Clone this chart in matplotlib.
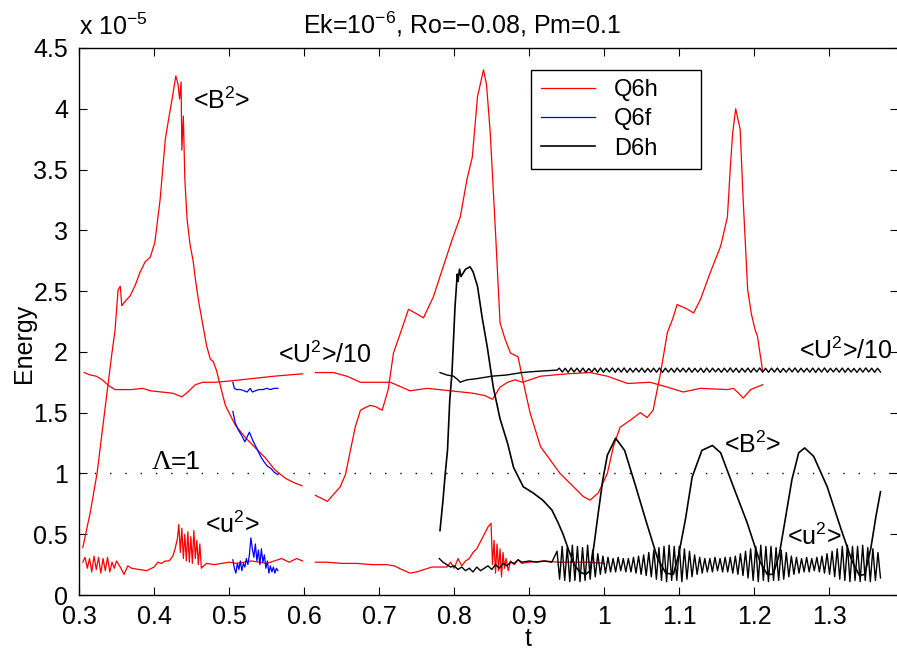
import numpy as np
import matplotlib
matplotlib.use("Agg")
import matplotlib.pyplot as plt

plt.rcParams['font.family'] = ['Liberation Sans', 'DejaVu Sans']
plt.rcParams['mathtext.fontset'] = 'custom'
plt.rcParams['mathtext.rm'] = 'Liberation Sans'
plt.rcParams['mathtext.it'] = 'Liberation Sans:italic'

# ---- Q6h (red), run split in two pieces ----
q6h_b2_t1 = [0.305, 0.315, 0.324, 0.335, 0.343, 0.348, 0.352, 0.355, 0.357, 0.362, 0.368, 0.375,
             0.381, 0.388, 0.395, 0.401, 0.408, 0.415, 0.419, 0.424, 0.429, 0.432, 0.434, 0.436,
             0.437, 0.439, 0.441, 0.444, 0.448, 0.452, 0.455, 0.459, 0.465, 0.470, 0.475, 0.479,
             0.483, 0.488, 0.495, 0.508, 0.521, 0.535, 0.548, 0.561, 0.575, 0.588, 0.597]
q6h_b2_e1 = [0.39, 0.68, 1.00, 1.55, 1.95, 2.18, 2.51, 2.54, 2.38, 2.42, 2.46, 2.55,
             2.65, 2.74, 2.78, 2.90, 3.25, 3.75, 3.90, 4.08, 4.27, 4.20, 4.08, 4.22,
             3.66, 3.94, 3.42, 3.09, 2.88, 2.75, 2.60, 2.43, 2.22, 2.05, 1.94, 1.92,
             1.85, 1.73, 1.56, 1.40, 1.30, 1.21, 1.13, 1.03, 0.96, 0.92, 0.90]
q6h_b2_t2 = [0.615, 0.631, 0.648, 0.655, 0.661, 0.668, 0.675, 0.681, 0.688, 0.695, 0.704, 0.712,
             0.719, 0.728, 0.739, 0.748, 0.759, 0.772, 0.781, 0.797, 0.808, 0.817, 0.824, 0.831,
             0.839, 0.843, 0.848, 0.855, 0.861, 0.868, 0.875, 0.885, 0.892, 0.901, 0.915, 0.928,
             0.941, 0.959, 0.972, 0.981, 0.992, 1.004, 1.012, 1.021, 1.035, 1.048, 1.057, 1.065,
             1.075, 1.084, 1.091, 1.097, 1.111, 1.119, 1.128, 1.141, 1.155, 1.164, 1.168, 1.171,
             1.175, 1.181, 1.185, 1.191, 1.196, 1.201, 1.204, 1.211]
q6h_b2_e2 = [0.82, 0.77, 0.89, 0.99, 1.17, 1.38, 1.52, 1.54, 1.56, 1.55, 1.52, 1.69,
             1.99, 2.15, 2.35, 2.32, 2.28, 2.45, 2.62, 2.92, 3.11, 3.42, 3.60, 4.10,
             4.32, 4.20, 3.80, 2.98, 2.24, 2.10, 1.99, 1.96, 1.75, 1.50, 1.22, 1.11,
             1.00, 0.89, 0.81, 0.78, 0.84, 1.00, 1.22, 1.38, 1.44, 1.50, 1.46, 1.52,
             1.83, 2.16, 2.27, 2.39, 2.35, 2.32, 2.43, 2.65, 2.87, 3.11, 3.53, 3.80,
             4.00, 3.83, 3.25, 2.51, 2.31, 2.18, 2.13, 1.84]

q6h_U2_t1 = [0.307, 0.315, 0.323, 0.331, 0.340, 0.348, 0.360, 0.370, 0.385, 0.395, 0.410,
             0.425, 0.437, 0.445, 0.455, 0.465, 0.480, 0.500, 0.530, 0.560, 0.598]
q6h_U2_e1 = [1.83, 1.81, 1.80, 1.77, 1.72, 1.69, 1.69, 1.69, 1.70, 1.68, 1.67,
             1.66, 1.63, 1.67, 1.73, 1.75, 1.75, 1.76, 1.78, 1.80, 1.82]
q6h_U2_t2 = [0.615, 0.639, 0.657, 0.675, 0.697, 0.715, 0.741, 0.764, 0.795, 0.825, 0.841,
             0.851, 0.861, 0.871, 0.881, 0.891, 0.915, 0.951, 0.981, 1.004, 1.031, 1.061,
             1.084, 1.105, 1.128, 1.164, 1.172, 1.179, 1.185, 1.195, 1.211]
q6h_U2_e2 = [1.83, 1.83, 1.80, 1.75, 1.75, 1.75, 1.68, 1.70, 1.68, 1.66, 1.64,
             1.61, 1.71, 1.75, 1.77, 1.75, 1.80, 1.82, 1.83, 1.80, 1.74, 1.75,
             1.71, 1.67, 1.70, 1.69, 1.70, 1.66, 1.62, 1.69, 1.73]

q6h_u2_t1 = [0.305, 0.308, 0.311, 0.314, 0.317, 0.320, 0.323, 0.326, 0.329, 0.332, 0.335, 0.338,
             0.341, 0.344, 0.347, 0.350, 0.355, 0.360, 0.365, 0.370, 0.380, 0.390, 0.400, 0.405,
             0.410, 0.415, 0.420, 0.425, 0.428, 0.431, 0.433, 0.435, 0.437, 0.439, 0.441, 0.443,
             0.445, 0.447, 0.449, 0.451, 0.453, 0.455, 0.457, 0.459, 0.461, 0.463, 0.466, 0.470,
             0.480, 0.490, 0.500, 0.510, 0.520, 0.530, 0.540, 0.550, 0.560, 0.570, 0.580, 0.590,
             0.598]
q6h_u2_e1 = [0.27, 0.31, 0.22, 0.30, 0.19, 0.32, 0.21, 0.31, 0.18, 0.30, 0.20, 0.31,
             0.19, 0.27, 0.22, 0.28, 0.23, 0.17, 0.24, 0.22, 0.21, 0.20, 0.23, 0.27,
             0.26, 0.28, 0.28, 0.32, 0.38, 0.46, 0.58, 0.35, 0.55, 0.30, 0.50, 0.28,
             0.52, 0.27, 0.48, 0.26, 0.53, 0.30, 0.45, 0.25, 0.42, 0.22, 0.24, 0.26,
             0.25, 0.26, 0.27, 0.26, 0.27, 0.28, 0.27, 0.26, 0.28, 0.30, 0.27, 0.30,
             0.28]
q6h_u2_t2 = [0.615, 0.630, 0.650, 0.670, 0.690, 0.710, 0.720, 0.730, 0.741, 0.750, 0.760, 0.770,
             0.780, 0.790, 0.795, 0.800, 0.805, 0.810, 0.815, 0.820, 0.825, 0.830, 0.835, 0.840,
             0.845, 0.849, 0.851, 0.853, 0.855, 0.857, 0.859, 0.861, 0.863, 0.865, 0.867, 0.869,
             0.872, 0.875, 0.880, 0.885, 0.890, 0.900, 0.920, 0.940, 0.960, 0.980, 1.000]
q6h_u2_e2 = [0.27, 0.27, 0.26, 0.26, 0.25, 0.25, 0.24, 0.21, 0.18, 0.19, 0.21, 0.23,
             0.23, 0.23, 0.27, 0.22, 0.30, 0.24, 0.28, 0.30, 0.35, 0.38, 0.44, 0.50,
             0.56, 0.59, 0.25, 0.45, 0.18, 0.42, 0.20, 0.38, 0.15, 0.35, 0.22, 0.30,
             0.20, 0.28, 0.25, 0.29, 0.26, 0.27, 0.28, 0.27, 0.27, 0.27, 0.26]

# ---- Q6f (blue) ----
q6f_b2_t = [0.505, 0.508, 0.512, 0.517, 0.521, 0.524, 0.527, 0.531, 0.534, 0.539, 0.542,
            0.546, 0.551, 0.556, 0.560, 0.565]
q6f_b2_e = [1.51, 1.42, 1.36, 1.31, 1.26, 1.30, 1.34, 1.28, 1.24, 1.18, 1.14,
            1.10, 1.06, 1.04, 1.01, 0.99]
q6f_U2_t = [0.505, 0.507, 0.510, 0.515, 0.520, 0.524, 0.528, 0.531, 0.535, 0.540, 0.545,
            0.550, 0.555, 0.560, 0.565]
q6f_U2_e = [1.75, 1.70, 1.69, 1.69, 1.68, 1.67, 1.70, 1.67, 1.68, 1.69, 1.69,
            1.70, 1.69, 1.70, 1.70]
q6f_u2_t = [0.505, 0.507, 0.509, 0.511, 0.513, 0.515, 0.517, 0.519, 0.521, 0.523, 0.525,
            0.527, 0.529, 0.531, 0.533, 0.535, 0.537, 0.539, 0.541, 0.543, 0.545, 0.547,
            0.549, 0.551, 0.553, 0.555, 0.557, 0.559, 0.561, 0.563, 0.565]
q6f_u2_e = [0.29, 0.22, 0.18, 0.26, 0.21, 0.28, 0.20, 0.26, 0.23, 0.30, 0.25,
            0.33, 0.47, 0.38, 0.31, 0.42, 0.28, 0.37, 0.25, 0.38, 0.27, 0.33,
            0.22, 0.28, 0.18, 0.24, 0.19, 0.23, 0.18, 0.22, 0.20]

# ---- D6h (black) ----
d6h_b2_t = [0.781, 0.785, 0.788, 0.791, 0.794, 0.797, 0.801, 0.804, 0.805, 0.807, 0.809, 0.812,
            0.815, 0.821, 0.825, 0.831, 0.837, 0.844, 0.852, 0.861, 0.871, 0.879, 0.892, 0.905,
            0.918, 0.930, 0.938, 0.945, 0.953, 0.960, 0.967, 0.975, 0.981, 0.986, 0.992, 0.998,
            1.004, 1.015, 1.027, 1.041, 1.055, 1.071, 1.082, 1.092, 1.099, 1.108, 1.117, 1.130,
            1.144, 1.155, 1.172, 1.190, 1.207, 1.217, 1.225, 1.233, 1.241, 1.250, 1.259, 1.267,
            1.279, 1.297, 1.315, 1.330, 1.340, 1.347, 1.355, 1.362, 1.368]
d6h_b2_e = [0.53, 0.78, 1.00, 1.19, 1.60, 1.83, 2.37, 2.64, 2.58, 2.68, 2.62, 2.65,
            2.68, 2.70, 2.66, 2.54, 2.29, 2.04, 1.71, 1.45, 1.25, 1.05, 0.89, 0.84,
            0.78, 0.70, 0.60, 0.50, 0.36, 0.25, 0.19, 0.17, 0.20, 0.40, 0.68, 0.95,
            1.15, 1.29, 1.19, 0.91, 0.62, 0.30, 0.18, 0.17, 0.33, 0.62, 0.97, 1.19,
            1.23, 1.17, 0.89, 0.60, 0.28, 0.17, 0.17, 0.33, 0.62, 0.95, 1.17, 1.21,
            1.14, 0.89, 0.55, 0.28, 0.16, 0.17, 0.38, 0.65, 0.85]

d6h_U2_t0 = [0.781, 0.790, 0.799, 0.805, 0.808, 0.812, 0.817, 0.830, 0.850, 0.870, 0.890, 0.910, 0.937]
d6h_U2_e0 = [1.83, 1.81, 1.80, 1.77, 1.75, 1.76, 1.77, 1.78, 1.80, 1.81, 1.83, 1.84, 1.85]
# fast ripple after t=0.937: per-cycle highs and lows
d6h_U2_hi = [1.866, 1.865, 1.868, 1.866, 1.867, 1.864, 1.866, 1.868, 1.865, 1.867, 1.866,
             1.868, 1.865, 1.866, 1.867, 1.864, 1.866, 1.868, 1.866, 1.865, 1.867, 1.866,
             1.868, 1.865, 1.866, 1.867, 1.866, 1.864, 1.866, 1.868, 1.866, 1.865, 1.867,
             1.866, 1.868, 1.865, 1.866, 1.867, 1.864, 1.866, 1.868, 1.866, 1.865, 1.867,
             1.866, 1.868, 1.865, 1.866, 1.867, 1.866, 1.864, 1.866, 1.868, 1.866, 1.865]
d6h_U2_lo = [1.834, 1.832, 1.835, 1.833, 1.831, 1.834, 1.832, 1.833, 1.835, 1.832, 1.834,
             1.831, 1.833, 1.835, 1.832, 1.834, 1.833, 1.831, 1.834, 1.832, 1.835, 1.833,
             1.832, 1.834, 1.831, 1.833, 1.835, 1.832, 1.834, 1.833, 1.831, 1.834, 1.832,
             1.835, 1.833, 1.832, 1.834, 1.831, 1.833, 1.835, 1.832, 1.834, 1.833, 1.831,
             1.834, 1.832, 1.835, 1.833, 1.832, 1.834, 1.831, 1.833, 1.835, 1.832, 1.834]

d6h_u2_t0 = [0.780, 0.785, 0.790, 0.795, 0.800, 0.805, 0.810, 0.815, 0.820, 0.825, 0.830, 0.835,
             0.840, 0.845, 0.850, 0.855, 0.860, 0.865, 0.870, 0.875, 0.880, 0.885, 0.890, 0.900,
             0.910, 0.920, 0.930]
d6h_u2_e0 = [0.30, 0.27, 0.25, 0.23, 0.24, 0.21, 0.23, 0.20, 0.22, 0.19, 0.23, 0.20,
             0.22, 0.24, 0.21, 0.25, 0.22, 0.26, 0.24, 0.27, 0.26, 0.29, 0.27, 0.28,
             0.27, 0.28, 0.27]
d6h_u2_hi = [0.36, 0.40, 0.39, 0.41, 0.40, 0.39, 0.41, 0.37,
             0.34, 0.32, 0.31, 0.30, 0.31, 0.30, 0.30, 0.31, 0.32, 0.33, 0.35,
             0.37, 0.39, 0.40, 0.41, 0.40, 0.40, 0.38, 0.36,
             0.33, 0.31, 0.30, 0.30, 0.31, 0.30, 0.31, 0.31, 0.32, 0.34, 0.36,
             0.38, 0.40, 0.41, 0.40, 0.40, 0.39, 0.37, 0.35,
             0.32, 0.31, 0.30, 0.31, 0.30, 0.31, 0.32, 0.34, 0.36,
             0.38, 0.40, 0.41, 0.40, 0.40, 0.41, 0.39, 0.38, 0.35]
d6h_u2_lo = [0.13, 0.12, 0.11, 0.12, 0.11, 0.12, 0.13, 0.15,
             0.17, 0.18, 0.19, 0.19, 0.20, 0.19, 0.19, 0.18, 0.17, 0.16, 0.15,
             0.13, 0.12, 0.11, 0.12, 0.12, 0.11, 0.13, 0.15,
             0.17, 0.18, 0.19, 0.19, 0.20, 0.19, 0.19, 0.18, 0.17, 0.16, 0.14,
             0.12, 0.11, 0.12, 0.11, 0.12, 0.12, 0.13, 0.15,
             0.17, 0.18, 0.19, 0.19, 0.20, 0.19, 0.18, 0.17, 0.15,
             0.13, 0.12, 0.11, 0.12, 0.11, 0.12, 0.11, 0.12, 0.14]
ripple_start, ripple_end = 0.937, 1.368

xticks = [0.3, 0.4, 0.5, 0.6, 0.7, 0.8, 0.9, 1.0, 1.1, 1.2, 1.3]
xticklabels = ['0.3', '0.4', '0.5', '0.6', '0.7', '0.8', '0.9', '1', '1.1', '1.2', '1.3']
yticks = [0, 0.5, 1, 1.5, 2, 2.5, 3, 3.5, 4, 4.5]
yticklabels = ['0', '0.5', '1', '1.5', '2', '2.5', '3', '3.5', '4', '4.5']


def ripple(hi, lo, t_start, t_end):
    vals = np.column_stack([hi, lo]).ravel()
    tt = np.linspace(t_start, t_end, len(vals))
    return tt, vals


fig = plt.figure(figsize=(8.97, 6.51), dpi=100)
ax = fig.add_axes([0.0881, 0.086, 0.9125, 0.8403])

lw = 0.9
red = '#ff0000'
blue = '#0000ff'

ax.axhline(1.0, color='k', lw=1.0, ls=(0, (1, 10)))

h_red, = ax.plot(q6h_b2_t1, q6h_b2_e1, color=red, lw=lw)
for tt, ee in [(q6h_b2_t2, q6h_b2_e2), (q6h_U2_t1, q6h_U2_e1), (q6h_U2_t2, q6h_U2_e2),
               (q6h_u2_t1, q6h_u2_e1), (q6h_u2_t2, q6h_u2_e2)]:
    ax.plot(tt, ee, color=red, lw=lw)

h_blue, = ax.plot(q6f_b2_t, q6f_b2_e, color=blue, lw=lw)
ax.plot(q6f_U2_t, q6f_U2_e, color=blue, lw=lw)
ax.plot(q6f_u2_t, q6f_u2_e, color=blue, lw=lw)

h_black, = ax.plot(d6h_b2_t, d6h_b2_e, color='k', lw=1.2)
rt, rv = ripple(d6h_U2_hi, d6h_U2_lo, 0.940, ripple_end)
ax.plot(np.concatenate([d6h_U2_t0, rt]), np.concatenate([d6h_U2_e0, rv]), color='k', lw=1.0)
rt, rv = ripple(d6h_u2_hi, d6h_u2_lo, ripple_start, ripple_end)
ax.plot(np.concatenate([d6h_u2_t0, rt]), np.concatenate([d6h_u2_e0, rv]), color='k', lw=1.0)

ax.set_xlim(0.3, 1.3907)
ax.set_ylim(0, 4.5)
ax.set_xticks(xticks)
ax.set_xticklabels(xticklabels)
ax.set_yticks(yticks)
ax.set_yticklabels(yticklabels)
ax.tick_params(direction='in', length=6, width=0.8, labelsize=18, top=True, right=True)
ax.tick_params(axis='x', pad=7)
ax.tick_params(axis='y', pad=8)
for s in ax.spines.values():
    s.set_linewidth(1.0)

ax.set_xlabel('t', fontsize=18)
ax.xaxis.set_label_coords(0.548, -0.058)
ax.set_ylabel('Energy', fontsize=18)
ax.yaxis.set_label_coords(-0.052, 0.46)

fig.text(0.515, 0.949, 'Ek=10$^{\u22126}$, Ro=\u22120.08, Pm=0.1', fontsize=18, ha='center', va='baseline')
fig.text(0.088, 0.946, 'x 10$^{\u22125}$', fontsize=18, ha='left', va='baseline')

fs = 18
ax.text(0.452, 4.0, '<B$^2$>', fontsize=fs, va='baseline')
ax.text(1.159, 1.17, '<B$^2$>', fontsize=fs, va='baseline')
ax.text(0.565, 1.91, '<U$^2$>/10', fontsize=fs, va='baseline')
ax.text(1.259, 1.94, '<U$^2$>/10', fontsize=fs, va='baseline')
ax.text(0.468, 0.51, '<u$^2$>', fontsize=fs, va='baseline')
ax.text(1.244, 0.41, '<u$^2$>', fontsize=fs, va='baseline')
ax.text(0.397, 1.04, '\u039b', fontsize=20, va='baseline', family='Liberation Serif')
ax.text(0.422, 1.04, '=1', fontsize=19, va='baseline')

leg = ax.legend([h_red, h_blue, h_black], ['Q6h', 'Q6f', 'D6h'], loc='upper left',
                bbox_to_anchor=(0.5526, 0.7806, 0.2077, 0.1792), mode='expand',
                borderaxespad=0, fontsize=17,
                handlelength=2.3, handletextpad=0.8, labelspacing=0.3, borderpad=0.4,
                fancybox=False, framealpha=1, edgecolor='k')
leg.get_frame().set_linewidth(1.0)

fig.savefig('out.png', dpi=100)
